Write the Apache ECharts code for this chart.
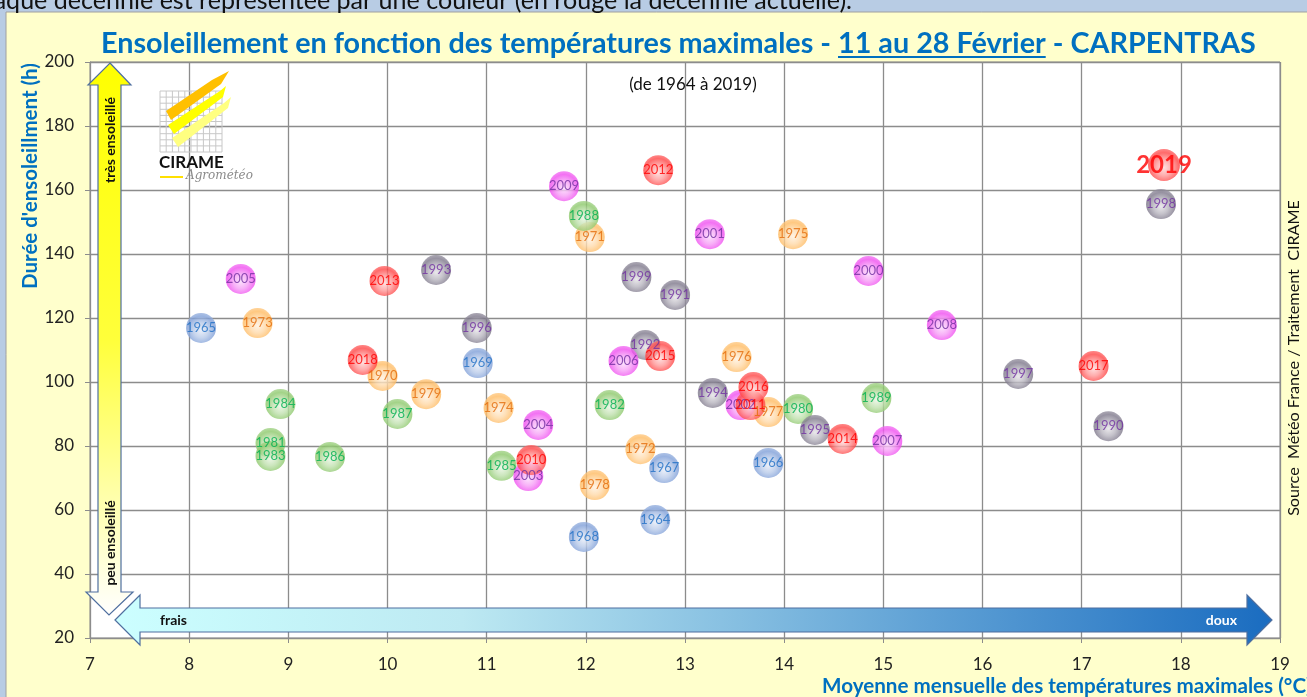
<!DOCTYPE html>
<html>
<head>
<meta charset="utf-8">
<script src="https://cdn.jsdelivr.net/npm/echarts@6/dist/echarts.min.js"></script>
<style>
  html, body { margin: 0; padding: 0; background: #b8cce4; }
  #chart { width: 1307px; height: 697px; }
</style>
</head>
<body>
<div id="chart"></div>
<script>
// 11-28 Feb, Carpentras : mean max temperature (°C) vs sunshine (h)
const years = [1964, 1965, 1966, 1967, 1968, 1969,
  1970, 1971, 1972, 1973, 1974, 1975, 1976, 1977, 1978, 1979,
  1980, 1981, 1982, 1983, 1984, 1985, 1986, 1987, 1988, 1989,
  1990, 1991, 1992, 1993, 1994, 1995, 1996, 1997, 1998, 1999,
  2000, 2001, 2002, 2003, 2004, 2005, 2006, 2007, 2008, 2009,
  2010, 2011, 2012, 2013, 2014, 2015, 2016, 2017, 2018, 2019];
const tmax = [12.70, 8.12, 13.84, 12.79, 11.98, 10.91,
  9.95, 12.04, 12.55, 8.69, 11.12, 14.09, 13.52, 13.84, 12.09, 10.39,
  14.14, 8.82, 12.24, 8.82, 8.92, 11.15, 9.42, 10.10, 11.98, 14.93,
  17.27, 12.90, 12.60, 10.49, 13.28, 14.31, 10.90, 16.36, 17.80, 12.51,
  14.85, 13.25, 13.56, 11.42, 11.52, 8.52, 12.38, 15.04, 15.59, 11.78,
  11.45, 13.66, 12.73, 9.97, 14.59, 12.75, 13.69, 17.12, 9.75, 17.83];
const sun = [56.9, 116.9, 74.7, 73.1, 51.6, 105.9,
  101.9, 145.3, 79.0, 118.4, 91.9, 146.2, 107.8, 90.6, 67.8, 96.2,
  91.6, 80.9, 92.8, 76.9, 93.1, 73.8, 76.6, 90.0, 151.9, 95.0,
  86.2, 127.2, 111.6, 135.0, 96.6, 85.0, 116.9, 102.5, 155.6, 132.8,
  134.7, 146.2, 92.8, 70.6, 86.6, 132.2, 106.6, 81.6, 117.8, 161.2,
  75.6, 92.8, 166.2, 131.6, 82.2, 108.1, 98.4, 105.0, 106.9, 167.8];
const normLabel = ['Norm', '1981-2010'];
const normPoint = [12.09, 105.6];
const currentYear = 2019;

const decades = [1960, 1970, 1980, 1990, 2000, 2010];
const decadeColors = {
  1960: { fill: '#7f9fd8', text: '#1f6fc5' },
  1970: { fill: '#ffbb62', text: '#e46c0a' },
  1980: { fill: '#8cc86a', text: '#00b050' },
  1990: { fill: '#7d778a', text: '#7030a0' },
  2000: { fill: '#f04ef0', text: '#7030a0' },
  2010: { fill: '#ff4545', text: '#ff0000' }
};

const FONT = 'Lato';
const BLUE = '#0070c0';

const ctx = document.createElement('canvas').getContext('2d');
function textWidth(txt, font) {
  ctx.font = font;
  return ctx.measureText(txt).width;
}
// font size so that txt spans the width measured on the original
function fitSize(txt, weight, target) {
  return 20 * target / textWidth(txt, weight + ' 20px ' + FONT);
}

function bubble(c) {
  return new echarts.graphic.RadialGradient(0.5, 0.58, 0.55, [
    { offset: 0, color: echarts.color.lift(c, 0.8) },
    { offset: 0.45, color: echarts.color.lift(c, 0.45) },
    { offset: 0.85, color: c },
    { offset: 1, color: echarts.color.lift(c, 0.15) }
  ]);
}

let series = decades.map(d => {
  let data = [];
  years.forEach((y, i) => {
    if (y >= d && y < d + 10 && y !== currentYear) data.push([tmax[i], sun[i], y]);
  });
  return {
    name: String(d),
    type: 'scatter',
    symbolSize: 30,
    data: data,
    itemStyle: { color: bubble(decadeColors[d].fill) },
    label: {
      show: true, position: 'inside', formatter: p => p.value[2],
      color: decadeColors[d].text, fontFamily: FONT, fontSize: 13
    }
  };
});

let ci = years.indexOf(currentYear);
series.push({
  name: 'current',
  type: 'scatter',
  symbolSize: 32,
  z: 4,
  data: [[tmax[ci], sun[ci], currentYear]],
  itemStyle: { color: bubble(decadeColors[2010].fill) },
  label: {
    show: true, position: 'inside', formatter: p => p.value[2],
    color: '#ff0000', fontFamily: FONT, fontSize: 24, fontWeight: 'bold'
  }
});

series.push({
  name: 'norm',
  type: 'scatter',
  symbolSize: 1,
  z: 5,
  data: [normPoint],
  itemStyle: { opacity: 0 },
  label: {
    show: true, position: 'inside', formatter: normLabel.join('\n'),
    color: '#ff0000', fontFamily: FONT, fontSize: 13.5, lineHeight: 19, align: 'center'
  }
});

// title, fitted to the original width
const titleParts = ['Ensoleillement en fonction des températures maximales - ', '11 au 28 Février', ' - CARPENTRAS'];
const titleSize = fitSize(titleParts.join(''), 'bold', 1155);
const titleFont = 'bold ' + titleSize.toFixed(2) + 'px ' + FONT;
const w0 = textWidth(titleParts[0], titleFont);
const w1 = textWidth(titleParts[1], titleFont);
const titleLeft = 101;

const topNote = 'Chaque décennie est représentée par une couleur (en rouge la décennie actuelle).';
const noteSize = fitSize('ique décennie est représentée par une couleur (en rouge la décennie actuelle).', 'normal', 852);
const yName = "Durée d'ensoleillment (h)";
const yNameSize = fitSize(yName, 'bold', 226);
const xName = 'Moyenne mensuelle des températures maximales (°C)';
const xNameSize = fitSize(xName, 'bold', 490);
const source = 'Source  Météo France / Traitement  CIRAME';
const sourceSize = fitSize(source, 'normal', 316);

// logo grid lines
let logo = [];
for (let i = 0; i <= 10; i++) {
  logo.push({ type: 'line', z: 1, shape: { x1: 160 + i * 6.2, y1: 91, x2: 160 + i * 6.2, y2: 152 }, style: { stroke: '#c8c8c8', lineWidth: 1 } });
  logo.push({ type: 'line', z: 1, shape: { x1: 160, y1: 91 + i * 6.1, x2: 222, y2: 91 + i * 6.1 }, style: { stroke: '#c8c8c8', lineWidth: 1 } });
}
logo.push(
  { type: 'polygon', z: 2, shape: { points: [[166, 111], [212, 80], [229, 71], [221, 84], [171, 120]] }, style: { fill: '#ffc000' } },
  { type: 'polygon', z: 2, shape: { points: [[168, 125], [220, 91], [226, 86], [223, 97], [174, 134]] }, style: { fill: '#ffff00' } },
  { type: 'polygon', z: 2, shape: { points: [[172, 138], [224, 103], [231, 97], [228, 108], [178, 147]] }, style: { fill: '#ffff80' } },
  { type: 'text', z: 2, style: { x: 159, y: 163, text: 'CIRAME', font: 'bold 17px ' + FONT, fill: '#111', textVerticalAlign: 'middle' } },
  { type: 'line', z: 2, shape: { x1: 160, y1: 177, x2: 183, y2: 177 }, style: { stroke: '#ffe000', lineWidth: 2 } },
  { type: 'text', z: 2, style: { x: 186, y: 176, text: 'Agrométéo', font: 'italic 12px "DejaVu Serif"', fill: '#8a8a8a', textVerticalAlign: 'middle' } }
);

const graphics = [
  // outer frame
  { type: 'rect', z: -1, shape: { x: 0, y: 0, width: 1307, height: 12 }, style: { fill: '#b8cce4' } },
  { type: 'rect', z: -1, shape: { x: 0, y: 0, width: 6, height: 697 }, style: { fill: '#b8cce4' } },
  { type: 'line', z: -1, shape: { x1: 6, y1: 12, x2: 1307, y2: 12 }, style: { stroke: '#a0a0a0', lineWidth: 1 } },
  { type: 'line', z: -1, shape: { x1: 6, y1: 12, x2: 6, y2: 697 }, style: { stroke: '#a0a0a0', lineWidth: 1 } },
  { type: 'text', style: { x: 852, y: 1, text: topNote, font: noteSize.toFixed(2) + 'px ' + FONT, fill: '#111', textAlign: 'right', textVerticalAlign: 'middle' } },
  // title
  { type: 'text', style: { x: titleLeft, y: 44, text: titleParts.join(''), font: titleFont, fill: BLUE, textVerticalAlign: 'middle' } },
  { type: 'line', shape: { x1: titleLeft + w0, y1: 57, x2: titleLeft + w0 + w1, y2: 57 }, style: { stroke: BLUE, lineWidth: 2 } },
  { type: 'text', style: { x: 693, y: 85, text: '(de 1964 à 2019)', font: '17px ' + FONT, fill: '#111', textAlign: 'center', textVerticalAlign: 'middle' } },
  // vertical arrow
  {
    type: 'polygon', z: 1,
    shape: { points: [[110, 63], [131, 85], [121, 85], [121, 592], [133, 592], [109, 615], [86, 592], [98, 592], [98, 85], [88, 85]] },
    style: {
      fill: new echarts.graphic.LinearGradient(0, 0, 0, 1, [
        { offset: 0, color: '#ffff00' }, { offset: 0.5, color: '#ffff3a' }, { offset: 1, color: '#ffffff' }
      ]),
      stroke: '#4f6f9f', lineWidth: 1.2
    }
  },
  { type: 'text', z: 2, rotation: Math.PI / 2, x: 110, y: 140, style: { x: 0, y: 0, text: 'très ensoleillé', font: 'bold 14px ' + FONT, fill: '#111', textAlign: 'center', textVerticalAlign: 'middle' } },
  { type: 'text', z: 2, rotation: Math.PI / 2, x: 110, y: 543, style: { x: 0, y: 0, text: 'peu ensoleillé', font: 'bold 14px ' + FONT, fill: '#111', textAlign: 'center', textVerticalAlign: 'middle' } },
  // horizontal arrow
  {
    type: 'polygon', z: 1,
    shape: { points: [[115, 620], [140, 595], [140, 608], [1247, 608], [1247, 595], [1272, 620], [1247, 645], [1247, 632], [140, 632], [140, 645]] },
    style: {
      fill: new echarts.graphic.LinearGradient(0, 0, 1, 0, [
        { offset: 0, color: '#ccffff' }, { offset: 0.3, color: '#bde9f2' }, { offset: 1, color: '#1a6cc0' }
      ]),
      stroke: '#4f6f9f', lineWidth: 1.2
    }
  },
  { type: 'text', z: 2, style: { x: 160, y: 620, text: 'frais', font: 'bold 14px ' + FONT, fill: '#111', textVerticalAlign: 'middle' } },
  { type: 'text', z: 2, style: { x: 1237, y: 620, text: 'doux', font: 'bold 14px ' + FONT, fill: '#ffffff', textAlign: 'right', textVerticalAlign: 'middle' } },
  // axis names and source
  { type: 'text', rotation: Math.PI / 2, x: 30, y: 176, style: { x: 0, y: 0, text: yName, font: 'bold ' + yNameSize.toFixed(2) + 'px ' + FONT, fill: BLUE, textAlign: 'center', textVerticalAlign: 'middle' } },
  { type: 'text', style: { x: 822, y: 686, text: xName, font: 'bold ' + xNameSize.toFixed(2) + 'px ' + FONT, fill: BLUE, textVerticalAlign: 'middle' } },
  { type: 'text', rotation: Math.PI / 2, x: 1294, y: 358, style: { x: 0, y: 0, text: source, font: sourceSize.toFixed(2) + 'px ' + FONT, fill: '#111', textAlign: 'center', textVerticalAlign: 'middle' } }
].concat(logo);

const chart = echarts.init(document.getElementById('chart'));
chart.setOption({
  backgroundColor: '#ffffcc',
  animation: false,
  textStyle: { fontFamily: FONT },
  grid: {
    left: 90, right: 27, top: 62, bottom: 59,
    show: true, backgroundColor: '#ffffff', borderColor: '#8c8c8c', borderWidth: 1
  },
  xAxis: {
    type: 'value', min: 7, max: 19, interval: 1,
    axisLine: { show: true, onZero: false, lineStyle: { color: '#8c8c8c' } },
    axisTick: { show: true, length: 5, lineStyle: { color: '#8c8c8c' } },
    axisLabel: { color: '#222', fontSize: 17, margin: 18 },
    splitLine: { show: true, lineStyle: { color: '#8c8c8c', width: 1.3 } }
  },
  yAxis: {
    type: 'value', min: 20, max: 200, interval: 20,
    axisLine: { show: true, onZero: false, lineStyle: { color: '#8c8c8c' } },
    axisTick: { show: true, length: 5, lineStyle: { color: '#8c8c8c' } },
    axisLabel: { color: '#222', fontSize: 17, margin: 16 },
    splitLine: { show: true, lineStyle: { color: '#8c8c8c', width: 1.3 } }
  },
  graphic: graphics,
  series: series
});
</script>
</body>
</html>
